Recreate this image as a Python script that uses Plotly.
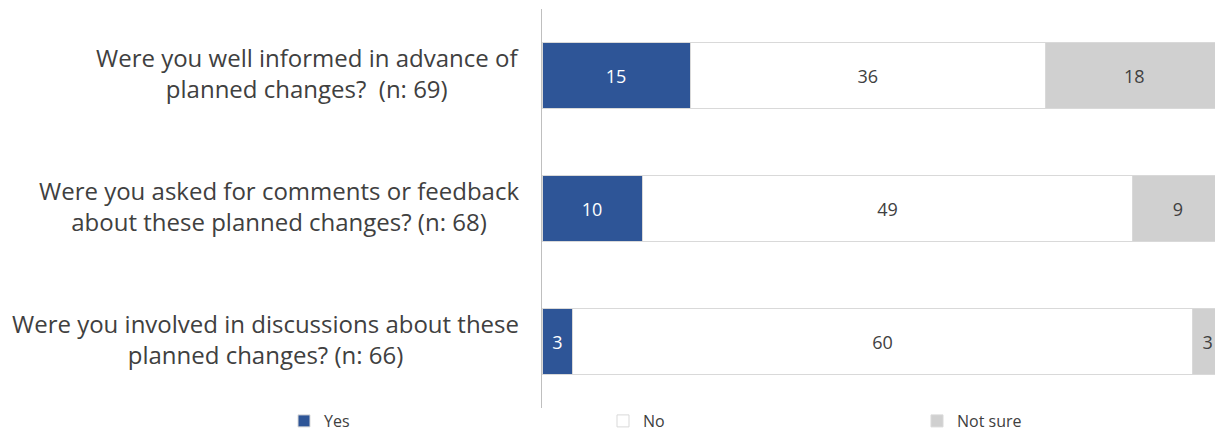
import plotly.graph_objects as go

questions = [
    "Were you well informed in advance of<br>planned changes?  (n: 69)",
    "Were you asked for comments or feedback<br>about these planned changes? (n: 68)",
    "Were you involved in discussions about these<br>planned changes? (n: 66)",
]
yes = [15, 10, 3]
no = [36, 49, 60]
not_sure = [18, 9, 3]

series = [
    ("Yes", yes, "#2E5597", "#FFFFFF", "legend", 276),
    ("No", no, "#FFFFFF", "#404040", "legend2", 595),
    ("Not sure", not_sure, "#D0D0D0", "#404040", "legend3", 909),
]

W, H = 1215, 430

fig = go.Figure()
legends = {}
for name, vals, color, tcolor, lg, lx in series:
    fig.add_trace(go.Bar(
        name=name, y=questions, x=vals, orientation="h",
        marker=dict(color=color, line=dict(color="#D9D9D9", width=1)),
        text=[str(v) for v in vals], textposition="inside",
        insidetextanchor="middle", constraintext="none",
        textfont=dict(color=tcolor, size=18, family="Open Sans"),
        width=0.5, legend=lg,
    ))
    legends[lg] = dict(
        orientation="h", xref="container", yref="container",
        x=lx / W, y=0, xanchor="left", yanchor="bottom",
        font=dict(size=16, color="#404040"), bgcolor="rgba(0,0,0,0)",
        borderwidth=0,
    )

for q in questions:
    fig.add_annotation(
        x=0, xref="paper", y=q, yref="y", text=q, showarrow=False,
        xanchor="right", yanchor="middle", align="center",
        xshift=-21, yshift=3,
        font=dict(family="Open Sans", size=24, color="#404040"),
    )

fig.update_layout(
    barmode="stack", barnorm="percent",
    width=W, height=H,
    margin=dict(l=534, r=0, t=1, b=30, autoexpand=False),
    paper_bgcolor="white", plot_bgcolor="white",
    font=dict(family="Open Sans", size=16, color="#404040"),
    showlegend=True,
    xaxis=dict(range=[0, 100], showgrid=False, showticklabels=False,
               zeroline=False, showline=False, fixedrange=True),
    yaxis=dict(autorange="reversed", showgrid=False, showline=True,
               linecolor="#BFBFBF", linewidth=1, ticks="",
               showticklabels=False),
    **legends,
)

fig.write_html("out.html")
